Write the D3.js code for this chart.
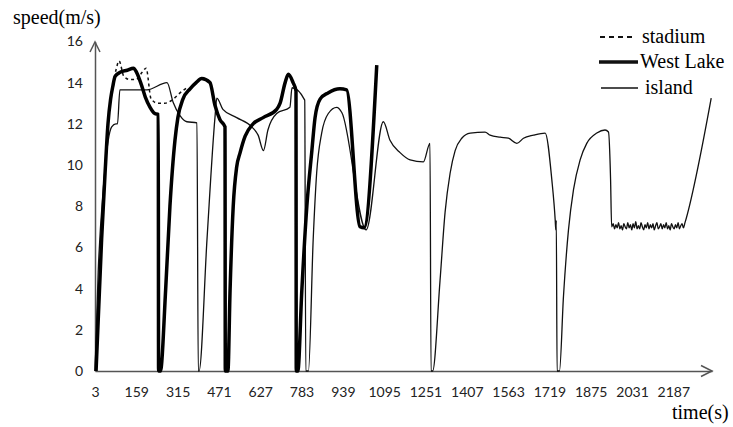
<!DOCTYPE html>
<html>
<head>
<meta charset="utf-8">
<script src="https://cdn.jsdelivr.net/npm/d3@7"></script>
<style>
  body { margin: 0; background: #fff; }
  svg { display: block; }
</style>
</head>
<body>
<div id="chart"></div>
<script>
// series as [time (s), speed (m/s)]
var stadium = [[7,0],[28,6.4],[41,9.6],[52,12.0],[62,13.2],[72,14.0],[82,14.6],[94,15.05],[112,14.3],
  [135,14.15],[158,14.15],[181,14.5],[196,14.7],[215,13.2],[241,13.0],[267,13.0],[294,13.15],[324,13.5],[350,13.75]];

var westLake = [
  [7,0],[28,6.4],[41,9.6],[52,12.0],[62,13.2],[70,13.8],[79,14.3],[98,14.5],[125,14.6],[148,14.7],[160,14.5],
  [178,13.9],[193,13.3],[211,12.8],[229,12.5],[242,12.45],[243,0],
  [250,0],[270,4.0],[286,8.0],[305,11.2],[316,12.3],[335,13.2],[362,13.7],[385,14.0],[406,14.2],[437,14.0],
  [456,12.9],[475,12.2],[494,11.85],[495,0],
  [505,0],[513,3.9],[525,8.0],[538,9.9],[551,10.6],[570,11.4],[600,12.0],[638,12.3],[689,12.7],[702,13.0],
  [721,14.0],[733,14.4],[751,14.0],[762,13.6],[763,0],
  [769,0],[784,3.9],[803,8.0],[822,10.7],[834,12.3],[853,13.2],[883,13.5],[928,13.7],[953,13.65],
  [1004,7.0],[1019,6.95],[1067,14.85]];

var island = [
  [3,0],[15,4.8],[34,8.8],[53,11.2],[66,11.85],[82,12.0],[88,12.0],[97,13.65],[147,13.65],[199,13.65],
  [275,14.0],[298,13.05],[324,12.4],[350,12.1],[388,12.05],[393,0],
  [396,0],[426,6.4],[456,12.3],[463,13.25],[486,12.7],[538,12.3],[595,11.85],[619,11.45],[639,10.7],
  [656,11.7],[689,12.5],[739,12.8],[747,13.75],[795,13.15],[799,0],
  [809,0],[827,6.4],[840,9.6],[859,11.55],[884,12.5],[916,12.8],[935,12.55],[1027,6.85],[1092,12.1],
  [1117,11.2],[1155,10.6],[1193,10.25],[1243,10.15],[1268,11.05],[1272,0],
  [1278,0],[1306,4.4],[1325,7.7],[1344,9.6],[1363,10.7],[1388,11.3],[1420,11.55],[1476,11.6],[1495,11.45],
  [1533,11.35],[1564,11.3],[1596,11.05],[1621,11.3],[1659,11.45],[1703,11.55],[1728,9.3],[1741,7.3],
  [1743,6.85],[1745,7.3],[1748,0],
  [1757,0],[1772,3.6],[1791,6.85],[1810,8.8],[1835,10.25],[1860,11.05],[1898,11.55],[1929,11.7],[1942,11.6],
  [1950,9.3],[1954,7.0],
  [1960,7.15],[1965,6.9],[1970,7.1],[1975,6.95],[1980,7.2],[1985,6.9],[1990,7.05],[1995,6.85],[2000,7.15],
  [2005,7.0],[2010,6.9],[2015,7.2],[2020,6.95],[2025,7.1],[2030,6.85],[2035,7.15],[2040,6.95],[2045,7.25],
  [2050,6.9],[2055,7.05],[2060,6.9],[2065,7.2],[2070,7.0],[2075,6.85],[2080,7.1],[2085,6.95],[2090,7.2],
  [2095,6.9],[2100,7.1],[2105,6.95],[2110,7.15],[2115,6.85],[2120,7.05],[2125,7.2],[2130,6.9],[2135,7.0],
  [2140,7.15],[2145,6.9],[2150,7.1],[2155,6.95],[2160,7.2],[2165,6.9],[2170,7.05],[2175,6.85],[2180,7.15],
  [2185,7.0],[2190,6.9],[2195,7.1],[2200,6.95],[2205,7.2],[2210,6.9],[2215,7.05],[2220,7.15],[2225,6.95],
  [2231,7.2],[2330,13.25]];

var xTicks = [3,159,315,471,627,783,939,1095,1251,1407,1563,1719,1875,2031,2187];
var yTicks = [0,2,4,6,8,10,12,14,16];
var legendNames = ["stadium","West Lake","island"];

var W = 733, H = 427;
var svg = d3.select("#chart").append("svg")
    .attr("width", W).attr("height", H);

var x = d3.scaleLinear().domain([3, 2333]).range([95, 712]);
var y = d3.scaleLinear().domain([0, 16]).range([371, 41.4]);

// axes
var xa = svg.append("g")
    .attr("transform", "translate(0,371)")
    .call(d3.axisBottom(x).tickValues(xTicks).tickSize(0).tickPadding(16).tickFormat(d3.format("d")));
var ya = svg.append("g")
    .attr("transform", "translate(95,0)")
    .call(d3.axisLeft(y).tickValues(yTicks).tickSize(0).tickPadding(12));

[xa, ya].forEach(function(g){
  g.select(".domain").attr("stroke", "#555").attr("stroke-width", 1.5);
  g.selectAll("text").attr("font-family", "Lato, 'Liberation Sans', sans-serif")
    .attr("font-size", 14).attr("fill", "#222");
});

// arrow heads
svg.append("path").attr("d", "M90,52 L95,42 L100,52")
    .attr("fill", "none").attr("stroke", "#555").attr("stroke-width", 1.5);
svg.append("path").attr("d", "M701,365.5 L712,371 L701,376.5")
    .attr("fill", "none").attr("stroke", "#555").attr("stroke-width", 1.5);

// axis titles
svg.append("text").attr("x", 13).attr("y", 24)
    .attr("font-family", "'Liberation Serif', serif").attr("font-size", 20)
    .text("speed(m/s)");
svg.append("text").attr("x", 672).attr("y", 419)
    .attr("font-family", "'Liberation Serif', serif").attr("font-size", 20)
    .text("time(s)");

var line = d3.line()
    .curve(d3.curveMonotoneX)
    .x(function(d){ return x(d[0]); })
    .y(function(d){ return y(d[1]); });

svg.append("path").datum(stadium)
    .attr("d", line).attr("fill", "none").attr("stroke", "#111")
    .attr("stroke-width", 1.5).attr("stroke-dasharray", "3,3");

svg.append("path").datum(island)
    .attr("d", line).attr("fill", "none").attr("stroke", "#111")
    .attr("stroke-width", 1.3).attr("stroke-linejoin", "round");

svg.append("path").datum(westLake)
    .attr("d", line).attr("fill", "none").attr("stroke", "#000")
    .attr("stroke-width", 3.5).attr("stroke-linejoin", "round");

// legend
var leg = svg.append("g");
var legY = [37, 62, 88];
var legStyle = [
  {w: 1.8, dash: "5,4", x1: 600, x2: 634},
  {w: 3.5, dash: null, x1: 599, x2: 638},
  {w: 1.3, dash: null, x1: 601, x2: 638}
];
legendNames.forEach(function(name, i){
  leg.append("line")
    .attr("x1", legStyle[i].x1).attr("x2", legStyle[i].x2)
    .attr("y1", legY[i]).attr("y2", legY[i])
    .attr("stroke", "#111").attr("stroke-width", legStyle[i].w)
    .attr("stroke-dasharray", legStyle[i].dash);
  leg.append("text")
    .attr("x", i === 2 ? 645 : (i === 1 ? 640 : 642))
    .attr("y", legY[i] + 6)
    .attr("font-family", "'Liberation Serif', serif").attr("font-size", 20)
    .text(name);
});
</script>
</body>
</html>
